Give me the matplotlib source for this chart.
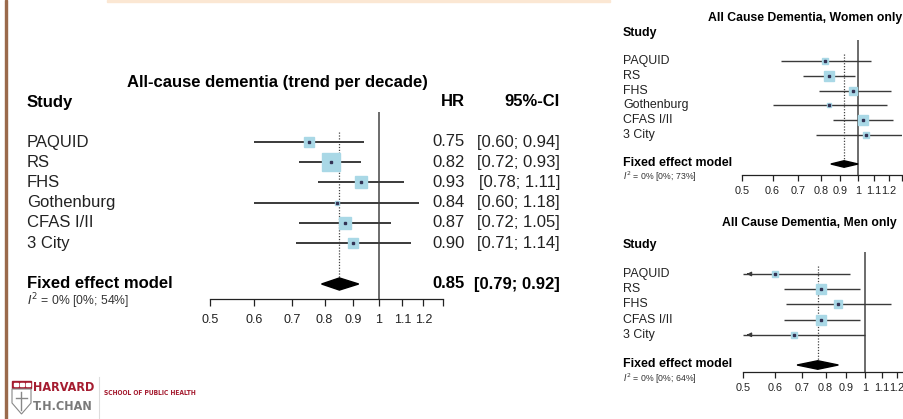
import numpy as np
import matplotlib
matplotlib.use("Agg")
import matplotlib.pyplot as plt
from matplotlib.patches import Polygon, Rectangle

plt.rcParams["font.family"] = ["Liberation Sans", "DejaVu Sans"]

# ---- data ------------------------------------------------------------------

# main panel: all-cause dementia, trend per decade
main_studies = ["PAQUID", "RS", "FHS", "Gothenburg", "CFAS I/II", "3 City"]
main_hr = [0.75, 0.82, 0.93, 0.84, 0.87, 0.90]
main_lo = [0.60, 0.72, 0.78, 0.60, 0.72, 0.71]
main_hi = [0.94, 0.93, 1.11, 1.18, 1.05, 1.14]
main_weight = [13.3, 38.5, 19.2, 2.1, 16.1, 10.8]
main_fixed = [0.79, 0.85, 0.92]   # lower, estimate, upper
main_i2 = "0% [0%; 54%]"

# women only
women_studies = ["PAQUID", "RS", "FHS", "Gothenburg", "CFAS I/II", "3 City"]
women_hr = [0.82, 0.84, 0.97, 0.84, 1.03, 1.05]
women_lo = [0.63, 0.72, 0.79, 0.60, 0.86, 0.78]
women_hi = [1.08, 0.98, 1.22, 1.19, 1.23, 1.45]
women_weight = [11.0, 30.0, 18.0, 5.0, 28.0, 8.0]
women_fixed = [0.85, 0.92, 1.00]
women_i2 = "0% [0%; 73%]"

# men only
men_studies = ["PAQUID", "RS", "FHS", "CFAS I/II", "3 City"]
men_hr = [0.60, 0.78, 0.86, 0.78, 0.67]
men_lo = [0.42, 0.63, 0.64, 0.63, 0.44]
men_hi = [0.92, 0.97, 1.16, 0.97, 1.00]
men_weight = [9.0, 33.0, 16.0, 33.0, 9.0]
men_fixed = [0.68, 0.765, 0.86]
men_i2 = "0% [0%; 64%]"

ticks = [0.5, 0.6, 0.7, 0.8, 0.9, 1.0, 1.1, 1.2, 1.3]
tick_labels = ["0.5", "0.6", "0.7", "0.8", "0.9", "1", "1.1", "1.2", ""]

W, H = 904, 419
BOX = "#a9d8e6"
LINE = "#3a3a3a"

fig = plt.figure(figsize=(W / 100, H / 100), dpi=100)


def ftext(x, y, s, **kw):
    # place text by pixel position of the slide
    kw.setdefault("va", "center")
    fig.text(x / W, 1 - y / H, s, **kw)


def forest(left, right, top, bottom, row0, pitch, fixed_y, hr, lo, hi, weight,
           fixed, box_scale, lw, tick_fs, tick_len, tick_pad, diamond_h):
    ax = fig.add_axes([left / W, 1 - bottom / H, (right - left) / W,
                       (bottom - top) / H])
    ax.set_xscale("log")
    ax.set_xlim(0.5, 1.3)
    ax.set_ylim((bottom - row0) / pitch, (top - row0) / pitch)
    fy = (fixed_y - row0) / pitch
    xmin, xmax = ax.get_xlim()

    for i in range(len(hr)):
        a = max(lo[i], xmin)
        b = min(hi[i], xmax)
        ax.plot([a, b], [i, i], color=LINE, lw=lw, solid_capstyle="butt", zorder=2)
        if lo[i] < xmin:
            ax.annotate("", xy=(xmin * 1.005, i), xytext=(xmin * 1.05, i),
                        arrowprops=dict(arrowstyle="-|>", color=LINE, lw=lw,
                                        mutation_scale=6), zorder=2)
        ms = box_scale * np.sqrt(weight[i]) * 0.72
        ax.plot(hr[i], i, marker="s", ms=ms, color=BOX, mec=BOX, zorder=3)
        ax.plot(hr[i], i, marker="s", ms=1.6, color="#333355", zorder=4)

    ax.axvline(1.0, color="#444444", lw=1.1, zorder=1)
    ax.plot([fixed[1], fixed[1]], [-0.5, fy], color="#444444", lw=0.9,
            ls=(0, (1, 1.3)), zorder=1)
    d = Polygon([[fixed[0], fy], [fixed[1], fy - diamond_h],
                 [fixed[2], fy], [fixed[1], fy + diamond_h]],
                closed=True, color="black", zorder=5)
    ax.add_patch(d)

    for s in ["top", "right", "left"]:
        ax.spines[s].set_visible(False)
    ax.spines["bottom"].set_linewidth(0.9)
    ax.spines["bottom"].set_color("#222222")
    ax.set_yticks([])
    ax.xaxis.set_minor_locator(matplotlib.ticker.NullLocator())
    ax.set_xticks(ticks)
    ax.set_xticklabels(tick_labels)
    ax.tick_params(axis="x", length=tick_len, width=0.9, color="#222222",
                   labelsize=tick_fs, pad=tick_pad, labelcolor="#222222")
    ax.patch.set_alpha(0)
    return ax


# ---- main panel ------------------------------------------------------------

FS = 12
forest(210, 443, 112, 299, 142, 20.2, 284, main_hr, main_lo, main_hi,
       main_weight, main_fixed, 2.75, 1.4, 9, 5, 6, 0.3)

ftext(277, 83, "All-cause dementia (trend per decade)", fontsize=FS,
      fontweight="bold", ha="center")
ftext(27, 102, "Study", fontsize=FS, fontweight="bold")
ftext(465, 102, "HR", fontsize=FS, fontweight="bold", ha="right")
ftext(560, 102, "95%-CI", fontsize=FS, fontweight="bold", ha="right")
for i, name in enumerate(main_studies):
    y = 142 + 20.2 * i
    ftext(27, y, name, fontsize=FS, color="#222222")
    ftext(465, y, f"{main_hr[i]:.2f}", fontsize=FS, ha="right", color="#222222")
    ftext(560, y, f"[{main_lo[i]:.2f}; {main_hi[i]:.2f}]", fontsize=FS,
          ha="right", color="#222222")
ftext(27, 284, "Fixed effect model", fontsize=FS, fontweight="bold")
ftext(465, 284, f"{main_fixed[1]:.2f}", fontsize=FS, fontweight="bold", ha="right")
ftext(560, 284, f"[{main_fixed[0]:.2f}; {main_fixed[2]:.2f}]", fontsize=FS,
      fontweight="bold", ha="right")
ftext(27, 301, r"$I^2$ = " + main_i2, fontsize=8.8, color="#333333")

# ---- women panel -----------------------------------------------------------

SF = 8.9
forest(742, 902, 40, 175, 61, 14.8, 164, women_hr, women_lo, women_hi,
       women_weight, women_fixed, 1.9, 1.0, 7.8, 4, 4, 0.22)
ftext(708, 18, "All Cause Dementia, Women only", fontsize=8.8, fontweight="bold")
ftext(623, 33, "Study", fontsize=SF, fontweight="bold")
for i, name in enumerate(women_studies):
    ftext(623, 61 + 14.8 * i, name, fontsize=SF, color="#222222")
ftext(623, 163, "Fixed effect model", fontsize=SF, fontweight="bold")
ftext(623, 177, r"$I^2$ = " + women_i2, fontsize=6.3, color="#333333")

# ---- men panel -------------------------------------------------------------

forest(743, 911, 252, 372, 274, 15.2, 365, men_hr, men_lo, men_hi,
       men_weight, men_fixed, 1.8, 1.0, 7.8, 4, 4, 0.28)
ftext(722, 223, "All Cause Dementia, Men only", fontsize=8.8, fontweight="bold")
ftext(623, 245, "Study", fontsize=SF, fontweight="bold")
for i, name in enumerate(men_studies):
    ftext(623, 274 + 15.2 * i, name, fontsize=SF, color="#222222")
ftext(623, 364, "Fixed effect model", fontsize=SF, fontweight="bold")
ftext(623, 379, r"$I^2$ = " + men_i2, fontsize=6.3, color="#333333")

# ---- slide decoration ------------------------------------------------------

deco = fig.add_axes([0, 0, 1, 1], zorder=-1)
deco.set_xlim(0, W)
deco.set_ylim(H, 0)
deco.axis("off")
deco.add_patch(Rectangle((5, 0), 2.5, H, color="#9a6a4c"))
deco.add_patch(Rectangle((107, 0), 503, 2, color="#fbe7d3"))

# logo: shield
CRIMSON = "#a51c30"
deco.add_patch(Rectangle((12, 381), 19, 7, color=CRIMSON))
for k in range(3):
    deco.add_patch(Rectangle((14 + k * 6, 383), 4, 3, color="white"))
deco.add_patch(Polygon([[12, 389], [31, 389], [31, 403], [21.5, 414], [12, 403]],
                       closed=True, fc="white", ec="#888888", lw=0.8))
deco.plot([21.5, 21.5], [392, 410], color="#888888", lw=1.0)
deco.plot([16, 27], [398, 398], color="#888888", lw=1.0)
deco.plot([99, 99], [377, 419], color="#dddddd", lw=0.8)

ftext(33, 387, "HARVARD", fontsize=9, fontweight="bold", color=CRIMSON,
      family="DejaVu Sans", fontstretch="condensed")
ftext(33, 406, "T.H.CHAN", fontsize=9, fontweight="bold", color="#7a7a7a",
      family="DejaVu Sans", fontstretch="condensed")
ftext(104, 393, "SCHOOL OF PUBLIC HEALTH", fontsize=4.8, fontweight="bold",
      color=CRIMSON, family="DejaVu Sans", fontstretch="condensed")

fig.savefig("out.png", dpi=100, facecolor="white")
